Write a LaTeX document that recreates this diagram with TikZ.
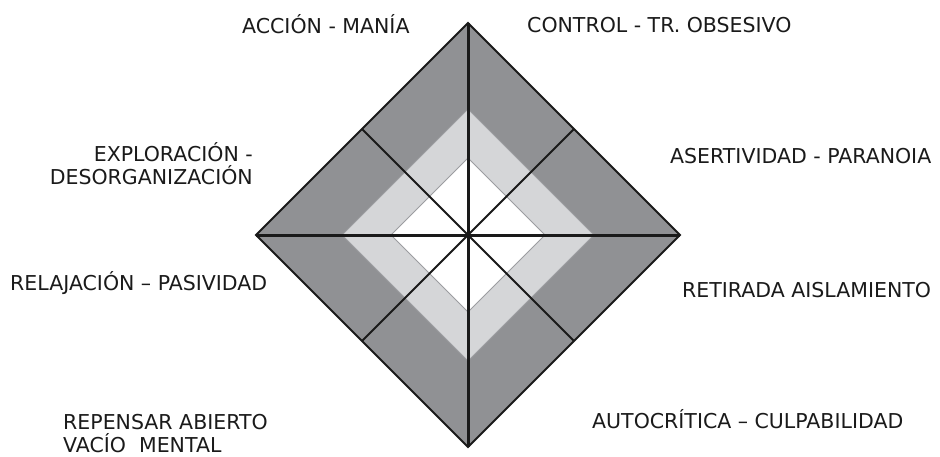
\documentclass[tikz,border=0pt]{standalone}
\usepackage{fontspec}
\setmainfont{DejaVu Sans}
\usetikzlibrary{calc}
\definecolor{cBand}{HTML}{909194}
\definecolor{cRing}{HTML}{D5D6D8}
\definecolor{cEdge}{HTML}{9C9DA0}
\definecolor{cInk}{HTML}{1A1A1A}

\begin{document}
\begin{tikzpicture}[
  x=1pt, y=-1pt,
  lbl/.style={font=\fontsize{20.5}{22.5}\selectfont, text=cInk, inner sep=0pt},
  band/.style={fill=cBand, draw=cInk, line width=1.8pt, line join=miter},
  ring/.style={fill=#1, draw=cEdge, line width=.9pt},
  axisline/.style={draw=cInk, line width=3pt},
  diagline/.style={draw=cInk, line width=1.8pt},
]
\useasboundingbox (0,0) rectangle (940,456);

% ---------------- diamond corners ----------------
\coordinate (c) at (468,235);
\coordinate (top) at (468,23);
\coordinate (rgt) at (680,235);
\coordinate (bot) at (468,447);
\coordinate (lft) at (256,235);

% ---------------- nested bands ----------------
\fill[cBand] (top) -- (rgt) -- (bot) -- (lft) -- cycle;
\path[ring=cRing] (468,109) -- (594,235) -- (468,361) -- (342,235) -- cycle;
\path[ring=white] (468,158) -- (545,235) -- (468,312) -- (391,235) -- cycle;

% diagonals through the edge midpoints
\draw[diagline] ($(top)!.5!(lft)$) -- ($(bot)!.5!(rgt)$);
\draw[diagline] ($(top)!.5!(rgt)$) -- ($(bot)!.5!(lft)$);

% main axes
\draw[axisline] (top) -- (bot);
\draw[axisline] (lft) -- (rgt);

\draw[band, fill=none] (top) -- (rgt) -- (bot) -- (lft) -- cycle;

% ---------------- labels ----------------
\node[lbl, anchor=base west] (accion) at (242,33) {ACCIÓN - MANÍA};
\node[lbl, anchor=base west] (control) at (527,32) {CONTROL - TR. OBSESIVO};
\node[lbl, anchor=base east, align=right] (explora) at (253,184)
  {EXPLORACIÓN -\\DESORGANIZACIÓN};
\node[lbl, anchor=base west] (asert) at (670,163) {ASERTIVIDAD - PARANOIA};
\node[lbl, anchor=base west] (relaja) at (10,290) {RELAJACIÓN – PASIVIDAD};
\node[lbl, anchor=base west] (retira) at (682,297) {RETIRADA AISLAMIENTO};
\node[lbl, anchor=base west] (autocrit) at (592,428) {AUTOCRÍTICA – CULPABILIDAD};
\node[lbl, anchor=base west, align=left] (repensar) at (63,452)
  {REPENSAR ABIERTO\\VACÍO\ \ MENTAL};

\end{tikzpicture}
\end{document}
